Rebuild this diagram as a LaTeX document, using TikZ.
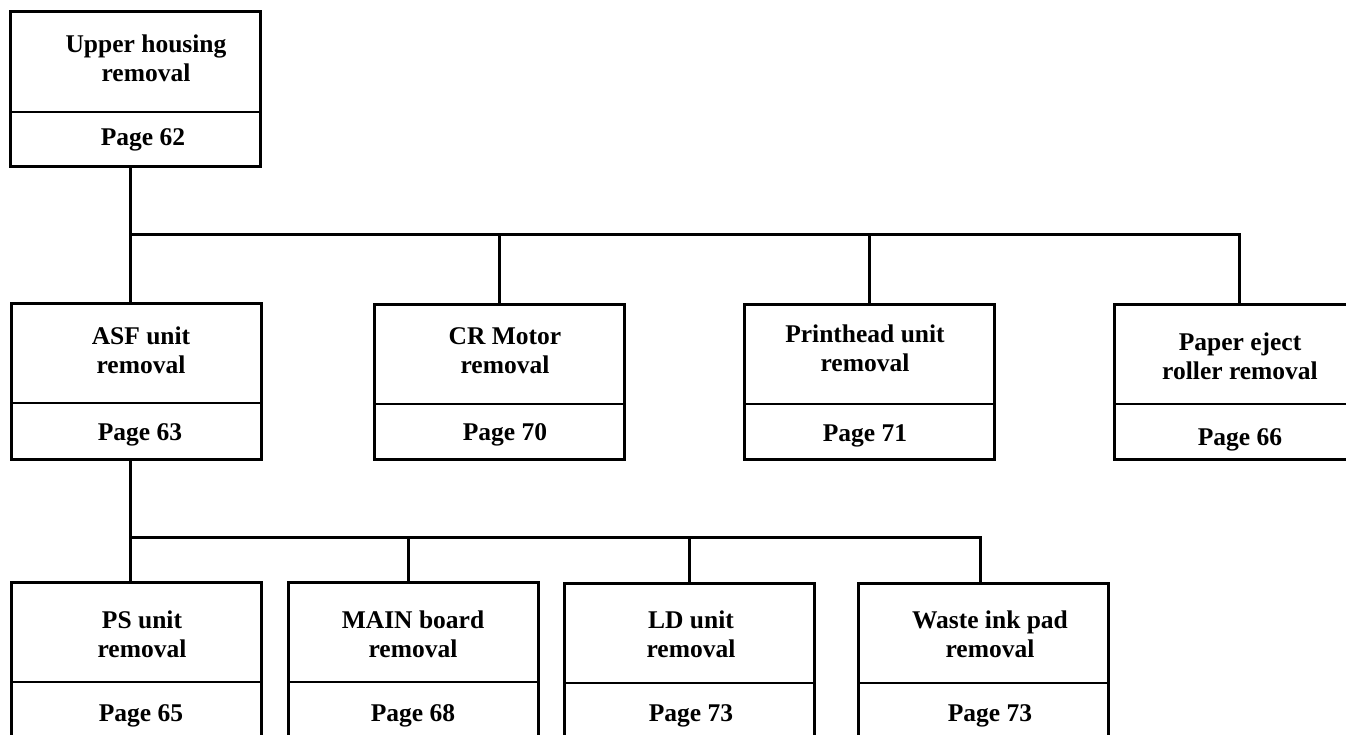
\documentclass[tikz,border=0pt]{standalone}
\usepackage{fontspec}
\setmainfont{Liberation Serif}
\begin{document}
\begin{tikzpicture}[x=1pt,y=-1pt,
  box/.style={draw=black, line width=3pt, anchor=north west, minimum width=250pt, inner sep=0pt, outer sep=0pt},
  div/.style={line width=2.8pt},
  conn/.style={line width=3pt},
  txt/.style={anchor=base, inner sep=0pt, font=\bfseries\fontsize{25.5}{30}\selectfont}]
\useasboundingbox (0,0) rectangle (1346,735);
\clip (0,0) rectangle (1346,735);
\newcommand{\rembox}[9]{%
  \node[box, minimum height=#9] (#1) at (#2,#3) {};
  \draw[div] ([yshift=-100pt]#1.north west) -- ([yshift=-100pt]#1.north east);
  \node[txt] (#1-a) at (#4,{#3+#8+2}) {#5};
  \node[txt] (#1-b) at (#4,{#3+#8+31}) {#6};
}
\newcommand{\pg}[4]{\node[txt] (#1-p) at (#2,{#3+3}) {#4};}
% top
\rembox{U}{10}{12}{146}{Upper housing}{removal}{}{39}{155pt}
\pg{U}{143}{143}{Page 62}
% middle row
\rembox{ASF}{11}{303}{141}{ASF unit}{removal}{}{39}{156pt}
\pg{ASF}{140}{437}{Page 63}
\rembox{CR}{374}{304}{505}{CR Motor}{removal}{}{38}{155pt}
\pg{CR}{505}{437}{Page 70}
\rembox{PH}{744}{304}{865}{Printhead unit}{removal}{}{36}{155pt}
\pg{PH}{865}{438}{Page 71}
\rembox{PE}{1114}{304}{1240}{Paper eject}{roller removal}{}{44}{155pt}
\pg{PE}{1240}{442}{Page 66}
% bottom row
\rembox{PS}{11}{582}{142}{PS unit}{removal}{}{44}{170pt}
\pg{PS}{141}{718}{Page 65}
\rembox{MAIN}{288}{582}{413}{MAIN board}{removal}{}{44}{170pt}
\pg{MAIN}{413}{718}{Page 68}
\rembox{LD}{564}{583}{691}{LD unit}{removal}{}{43}{170pt}
\pg{LD}{691}{718}{Page 73}
\rembox{WI}{858}{583}{990}{Waste ink pad}{removal}{}{43}{170pt}
\pg{WI}{990}{718}{Page 73}
% connectors level 1
\coordinate (j1) at (130,235);
\draw[conn] (U.south -| j1) -- (j1);
\draw[conn] (j1) -- (j1 -| PE.north) -- (PE.north);
\draw[conn] (j1) -- (ASF.north -| j1);
\draw[conn] (j1 -| CR.north) -- (CR.north);
\draw[conn] (j1 -| PH.north) -- (PH.north);
% connectors level 2
\coordinate (j2) at (130,537);
\coordinate (mdrop) at (408,537);
\coordinate (wdrop) at (980,537);
\draw[conn] (ASF.south -| j2) -- (j2);
\draw[conn] (j2) -- (wdrop) -- (WI.north -| wdrop);
\draw[conn] (j2) -- (PS.north -| j2);
\draw[conn] (mdrop) -- (MAIN.north -| mdrop);
\draw[conn] (j2 -| LD.north) -- (LD.north);
\end{tikzpicture}
\end{document}
